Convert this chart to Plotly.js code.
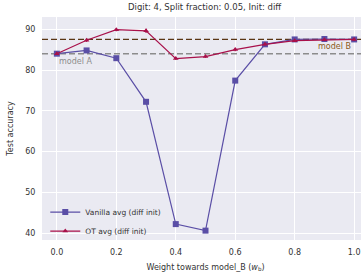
<!DOCTYPE html>
<html><head><meta charset="utf-8">
<script src="https://cdn.plot.ly/plotly-3.0.1.min.js"></script>
<style>html,body{margin:0;padding:0;overflow:hidden;width:361px;height:276px;background:#fff}</style>
</head><body><div id="chart"></div>
<script>
const weights = [0.0, 0.1, 0.2, 0.3, 0.4, 0.5, 0.6, 0.7, 0.8, 0.9, 1.0];
const vanillaAcc = [84.0, 84.8, 82.9, 72.2, 42.2, 40.6, 77.4, 86.3, 87.5, 87.6, 87.5];
const otAcc = [84.0, 87.3, 89.9, 89.6, 82.8, 83.3, 85.0, 86.3, 87.2, 87.4, 87.5];
const otErr = [0.3, 0.4, 0.4, 0.5, 0.3, 0.3, 0.4, 0.3, 0.3, 0.3, 0.3];
const modelA = 84.0;
const modelB = 87.5;
const xTicks = [0.0, 0.2, 0.4, 0.6, 0.8, 1.0];
const xTickText = ['0.0', '0.2', '0.4', '0.6', '0.8', '1.0'];
const yTicks = [40, 50, 60, 70, 80, 90];

const font = {family: 'DejaVu Sans, sans-serif', color: '#333', size: 8};
const traces = [
  {x: [-0.05, 1.05], y: [modelA, modelA], mode: 'lines', showlegend: false, hoverinfo: 'skip',
   line: {color: '#8c8c8c', width: 1.6, dash: '6px,3px'}},
  {x: [-0.05, 1.05], y: [modelB, modelB], mode: 'lines', showlegend: false, hoverinfo: 'skip',
   line: {color: '#5a3514', width: 1.3, dash: '6px,3px'}},
  {x: weights, y: vanillaAcc, mode: 'lines+markers', name: 'Vanilla avg (diff init)',
   line: {color: '#5a4ea6', width: 1.2}, marker: {symbol: 'square', size: 6, color: '#5a4ea6'}},
  {x: weights, y: otAcc, mode: 'lines+markers', name: 'OT avg (diff init)',
   error_y: {type: 'data', array: otErr, visible: true, color: '#a8104a', thickness: 1.2, width: 0},
   line: {color: '#a8104a', width: 1.2}, marker: {symbol: 'triangle-up', size: 5, color: '#a8104a'}}
];
const layout = {
  width: 372, height: 276,
  margin: {l: 42, r: 3, t: 17, b: 36},
  paper_bgcolor: '#fff', plot_bgcolor: '#eaeaf2',
  font: font,
  title: {text: 'Digit: 4, Split fraction: 0.05, Init: diff', font: {family: font.family, size: 8.5, color: '#333'},
          x: 0.55, xanchor: 'center', y: 0.985, yanchor: 'top'},
  xaxis: {range: [-0.05, 1.05], tickvals: xTicks, ticktext: xTickText, showgrid: true, gridcolor: '#fff', gridwidth: 1,
          zeroline: false, showline: false, ticks: 'outside', ticklen: 4, tickcolor: 'rgba(0,0,0,0)',
          tickfont: {size: 8, color: '#333'},
          title: {text: 'Weight towards model_B (<i>w</i><sub>b</sub>)', font: {size: 8, color: '#333'}, standoff: 8}},
  yaxis: {range: [38.3, 93.0], tickvals: yTicks, showgrid: true, gridcolor: '#fff', gridwidth: 1,
          zeroline: false, showline: false, ticks: 'outside', ticklen: 4, tickcolor: 'rgba(0,0,0,0)',
          tickfont: {size: 8, color: '#333'},
          title: {text: 'Test accuracy', font: {size: 8, color: '#333'}, standoff: 10}},
  legend: {x: 0.01, y: -0.025, xanchor: 'left', yanchor: 'bottom', bgcolor: 'rgba(0,0,0,0)',
           font: {size: 7.5, color: '#333'}, tracegroupgap: 0, itemwidth: 30},
  annotations: [
    {x: 0.0, y: modelA, xref: 'x', yref: 'y', text: 'model A', showarrow: false, xanchor: 'left', yanchor: 'top',
     yshift: -1, font: {size: 8, color: '#8c8c8c'}},
    {x: 0.995, y: modelB, xref: 'x', yref: 'y', text: 'model B', showarrow: false, xanchor: 'right', yanchor: 'top',
     yshift: -1, font: {size: 8, color: '#8a5a1a'}}
  ]
};
Plotly.newPlot('chart', traces, layout, {staticPlot: true, displayModeBar: false});
</script></body></html>
